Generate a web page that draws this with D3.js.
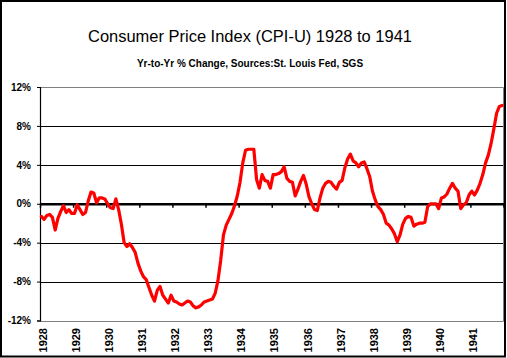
<!DOCTYPE html>
<html>
<head>
<meta charset="utf-8">
<script src="https://cdn.jsdelivr.net/npm/d3@7/dist/d3.min.js"></script>
<style>
  html, body { margin: 0; padding: 0; background: #fff; }
  svg { display: block; }
  text { font-family: Arial, "Liberation Sans", sans-serif; }
</style>
</head>
<body>
<svg id="chart" width="507" height="358"></svg>
<script>
// ---- Data: CPI-U year-to-year % change, monthly ----
const years = [1928, 1929, 1930, 1931, 1932, 1933, 1934, 1935, 1936, 1937, 1938, 1939, 1940, 1941];
const v1928 = [-1.3, -1.6, -1.2, -1.1, -1.4, -2.7, -1.5, -0.8, -0.2, -0.9, -0.6, -1.0];
const v1929 = [-1.0, -0.1, -0.6, -1.1, -0.9, 0.3, 1.2, 1.1, 0.1, 0.6, 0.6, 0.5];
const v1930 = [0.0, -0.4, -0.5, 0.5, -0.6, -2.1, -4.0, -4.4, -4.1, -4.5, -5.0, -6.1];
const v1931 = [-6.9, -7.5, -7.8, -8.6, -9.4, -10.0, -8.9, -8.5, -9.4, -9.8, -10.2, -9.4];
const v1932 = [-10.0, -10.1, -10.3, -10.4, -10.2, -10.0, -10.1, -10.5, -10.7, -10.6, -10.4, -10.1];
const v1933 = [-10.0, -9.9, -9.8, -9.2, -7.9, -5.8, -3.2, -2.2, -1.6, -1.0, -0.2, 0.8];
const v1934 = [2.2, 4.2, 5.5, 5.6, 5.6, 5.6, 2.5, 1.6, 3.0, 2.4, 2.3, 1.6];
const v1935 = [3.0, 3.0, 3.1, 3.3, 3.8, 2.6, 2.3, 2.2, 0.8, 1.5, 2.3, 2.9];
const v1936 = [2.0, 0.7, 0.0, -0.6, -0.7, 0.6, 1.6, 2.1, 2.3, 2.2, 1.8, 1.5];
const v1937 = [2.2, 2.4, 3.7, 4.6, 5.1, 4.4, 4.2, 3.8, 4.2, 4.3, 3.6, 2.8];
const v1938 = [1.3, 0.4, -0.3, -0.6, -1.1, -2.0, -2.2, -2.6, -3.1, -3.9, -3.2, -2.1];
const v1939 = [-1.5, -1.3, -1.4, -2.3, -2.1, -2.0, -2.0, -1.9, -0.3, 0.0, 0.0, 0.0];
const v1940 = [-0.5, 0.6, 0.7, 1.0, 1.6, 2.1, 1.6, 1.3, -0.5, -0.1, 0.1, 0.9];
const v1941 = [1.3, 0.9, 1.4, 2.1, 3.0, 4.2, 5.0, 6.2, 7.7, 9.3, 10.0, 10.1];
const yTicks = [-12, -8, -4, 0, 4, 8, 12];
const titleText = "Consumer Price Index (CPI-U) 1928 to 1941";
const subtitleText = "Yr-to-Yr % Change, Sources:St. Louis Fed, SGS";

const values = [].concat(v1928, v1929, v1930, v1931, v1932, v1933, v1934,
                         v1935, v1936, v1937, v1938, v1939, v1940, v1941);

// ---- Layout ----
const svg = d3.select("#chart");
const plotL = 40, plotR = 503.5, plotT = 87, plotB = 320.5;

const x = d3.scalePoint().domain(d3.range(values.length)).range([plotL, plotR]).padding(0.5);
const xYear = d3.scaleLinear().domain([years[0], years[years.length - 1] + 1]).range([plotL, plotR]);
const y = d3.scaleLinear().domain([-12, 12]).range([plotB, plotT]);

// Outer chart border
svg.append("rect").attr("x", 1).attr("y", 1).attr("width", 504).attr("height", 355.5)
  .attr("fill", "#fff").attr("stroke", "#000").attr("stroke-width", 2);

// Titles
svg.append("text").attr("x", 250).attr("y", 42).attr("text-anchor", "middle")
  .attr("font-size", "17px").attr("textLength", 324).attr("lengthAdjust", "spacingAndGlyphs")
  .text(titleText);
svg.append("text").attr("x", 250).attr("y", 66.5).attr("text-anchor", "middle")
  .attr("font-size", "10px").attr("font-weight", "bold")
  .text(subtitleText);

// Gridlines
const inner = yTicks.filter(d => d !== 0 && Math.abs(d) !== 12);
svg.append("g").selectAll("line").data(inner).join("line")
  .attr("x1", plotL).attr("x2", plotR)
  .attr("y1", d => Math.round(y(d)) + 0.5).attr("y2", d => Math.round(y(d)) + 0.5)
  .attr("stroke", "#000").attr("stroke-width", 1);

// Plot area frame (gray: top, right, bottom)
svg.append("path")
  .attr("d", `M${plotL},${Math.round(y(12)) + 0.5}H${plotR}V${Math.round(y(-12)) + 0.5}H${plotL}`)
  .attr("fill", "none").attr("stroke", "#808080").attr("stroke-width", 1);

// Y axis
const yAxis = svg.append("g").attr("transform", `translate(${plotL},0)`)
  .call(d3.axisLeft(y).tickValues(yTicks).tickSize(3).tickPadding(6).tickFormat(d => d + "%"));
yAxis.select(".domain").attr("stroke", "#000").attr("stroke-width", 1.2);
yAxis.selectAll(".tick line").attr("stroke", "#000");
yAxis.selectAll("text").attr("font-size", "10px").attr("font-weight", "bold")
  .attr("font-family", "Arial, 'Liberation Sans', sans-serif").attr("fill", "#000");

// Zero axis with year tick marks
const zeroAxis = svg.append("g").attr("transform", `translate(0,${y(0)})`)
  .call(d3.axisBottom(xYear).tickValues(d3.range(years[0], years[years.length - 1] + 2))
    .tickSize(4).tickSizeOuter(0).tickFormat(""));
zeroAxis.select(".domain").attr("stroke", "#000").attr("stroke-width", 2.6);
zeroAxis.selectAll(".tick line").attr("stroke", "#000").attr("stroke-width", 1.5);

// Year labels at the bottom (rotated)
const labelAxis = svg.append("g").attr("transform", `translate(0,${plotB})`)
  .call(d3.axisBottom(x).tickValues(d3.range(0, values.length, 12)).tickSize(0)
    .tickFormat(i => years[i / 12]));
labelAxis.select(".domain").remove();
labelAxis.selectAll("text")
  .attr("transform", "rotate(-90)")
  .attr("text-anchor", "end")
  .attr("x", -7.5).attr("y", 1).attr("dy", "0.35em")
  .attr("font-size", "11px").attr("font-weight", "bold")
  .attr("font-family", "Arial, 'Liberation Sans', sans-serif").attr("fill", "#000");

// CPI line
const line = d3.line().x((d, i) => x(i)).y(d => y(d));
svg.append("path").datum(values)
  .attr("d", line)
  .attr("fill", "none").attr("stroke", "#ff0000").attr("stroke-width", 3.2)
  .attr("stroke-linejoin", "round").attr("stroke-linecap", "round");
</script>
</body>
</html>
